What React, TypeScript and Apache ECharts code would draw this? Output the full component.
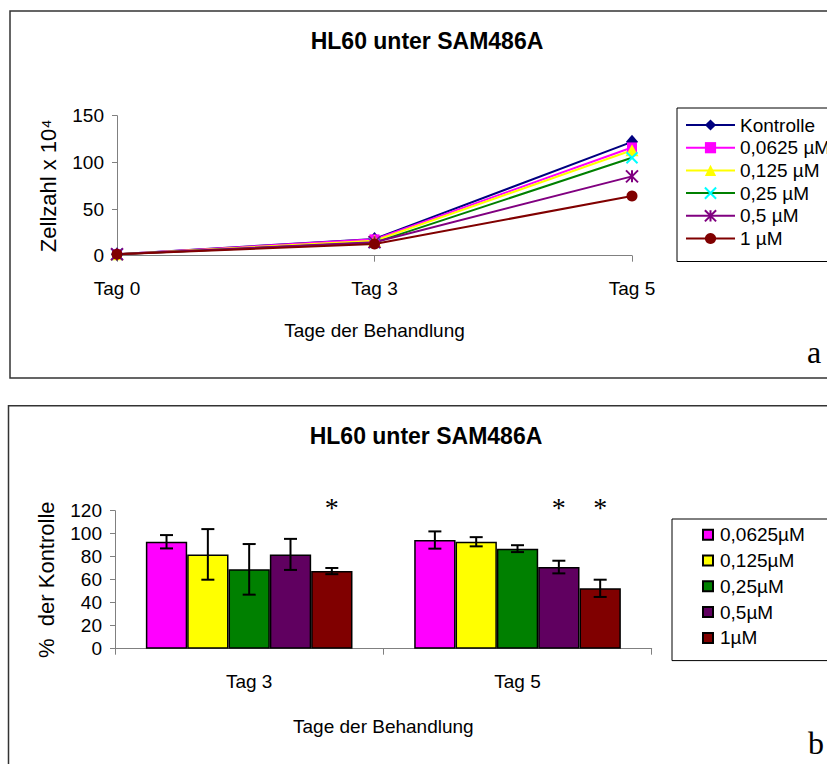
import React, { useEffect, useRef } from 'react';
import * as echarts from 'echarts';

const SANS = "'Liberation Sans', Arial, sans-serif";
const SERIF = "'Liberation Serif', 'Times New Roman', serif";

// ---------- Panel a: cell counts ----------
const dayCategories = ['Tag 0', 'Tag 3', 'Tag 5'];
const cellTicks = [0, 50, 100, 150];
const lineNames = ['Kontrolle', '0,0625 µM', '0,125 µM', '0,25 µM', '0,5 µM', '1 µM'];
const kontrolle = [1.5, 18, 122];
const dose00625 = [1.5, 17.5, 116];
const dose0125 = [1.5, 16, 113];
const dose025 = [1.5, 14, 105];
const dose05 = [1.5, 14.5, 85];
const dose1 = [1.5, 12.5, 64];

// ---------- Panel b: % of control ----------
const barCategories = ['Tag 3', 'Tag 5'];
const percentTicks = [0, 20, 40, 60, 80, 100, 120];
const barNames = ['0,0625µM', '0,125µM', '0,25µM', '0,5µM', '1µM'];
const mean00625 = [93, 94.5];
const mean0125 = [82, 93];
const mean025 = [69, 87];
const mean05 = [82, 71];
const mean1 = [67.5, 52.5];
const err00625 = [5.8, 7.5];
const err0125 = [22, 4];
const err025 = [22, 3];
const err05 = [13.5, 5.5];
const err1 = [2.7, 7.5];
const sig00625 = [0, 0];
const sig0125 = [0, 0];
const sig025 = [0, 0];
const sig05 = [0, 1];
const sig1 = [1, 1];
const STAR_LEVEL = 123;

const BAR_CATEGORY_GAP = 0.23;

const lineColors = ['#000080', '#FF00FF', '#FFFF00', '#008000', '#800080', '#800000'];
const markerColors = ['#000080', '#FF00FF', '#FFFF00', '#00FFFF', '#800080', '#800000'];
const barColors = ['#FF00FF', '#FFFF00', '#008000', '#600060', '#800000'];

const X_PATH = 'path://M0,0L10,10M10,0L0,10';
const STAR_PATH = 'path://M5,0L5,10M0,0L10,10M10,0L0,10';

export default function App() {
  const ref = useRef<HTMLDivElement>(null);

  useEffect(() => {
    if (!ref.current) return;
    const chart = echarts.init(ref.current, undefined, { renderer: 'svg' });

    const lineData = [kontrolle, dose00625, dose0125, dose025, dose05, dose1];
    const symbols: any[] = ['diamond', 'rect', 'triangle', X_PATH, STAR_PATH, 'circle'];
    const symbolSizes: any[] = [[12, 14], 10, [13, 12], 11, 12, 11];

    const lineSeries = lineNames.map((name, i) => {
      const stroked = i === 3 || i === 4;
      return {
        type: 'line',
        name,
        xAxisIndex: 0,
        yAxisIndex: 0,
        data: lineData[i],
        symbol: symbols[i],
        symbolSize: symbolSizes[i],
        showAllSymbol: true,
        lineStyle: { color: lineColors[i], width: 2 },
        itemStyle: stroked
          ? { color: markerColors[i], borderColor: markerColors[i], borderWidth: 2 }
          : { color: markerColors[i], borderWidth: 0 },
        emphasis: { disabled: true },
      };
    });

    const means = [mean00625, mean0125, mean025, mean05, mean1];
    const errs = [err00625, err0125, err025, err05, err1];
    const sigs = [sig00625, sig0125, sig025, sig05, sig1];

    const barSeries = barNames.map((name, i) => ({
      type: 'bar',
      name,
      xAxisIndex: 1,
      yAxisIndex: 1,
      data: means[i],
      barGap: '0%',
      barCategoryGap: BAR_CATEGORY_GAP * 100 + '%',
      itemStyle: { color: barColors[i], borderColor: '#000', borderWidth: 1.5 },
      emphasis: { disabled: true },
    }));

    const errorData: number[][] = [];
    means.forEach((m, d) => {
      m.forEach((v, c) => {
        errorData.push([c, d, v, errs[d][c], sigs[d][c]]);
      });
    });

    const errorSeries = {
      type: 'custom',
      xAxisIndex: 1,
      yAxisIndex: 1,
      dimensions: ['cat', 'dose', 'mean', 'err', 'sig'],
      encode: { x: 0, y: 2 },
      data: errorData,
      z: 5,
      renderItem: (params: any, api: any) => {
        const c = api.value(0);
        const d = api.value(1);
        const m = api.value(2);
        const e = api.value(3);
        const s = api.value(4);
        const catW = api.size([1, 0])[0];
        const barW = (catW * (1 - BAR_CATEGORY_GAP)) / barNames.length;
        const base = api.coord([c, m]);
        const x = base[0] + (d - (barNames.length - 1) / 2) * barW;
        const yTop = api.coord([c, m + e])[1];
        const yBot = api.coord([c, m - e])[1];
        const cap = 6.5;
        const st = { stroke: '#000', lineWidth: 2 };
        const children: any[] = [
          { type: 'line', shape: { x1: x, y1: yTop, x2: x, y2: yBot }, style: st },
          { type: 'line', shape: { x1: x - cap, y1: yTop, x2: x + cap, y2: yTop }, style: st },
          { type: 'line', shape: { x1: x - cap, y1: yBot, x2: x + cap, y2: yBot }, style: st },
        ];
        if (s) {
          const ys = api.coord([c, STAR_LEVEL])[1];
          children.push({
            type: 'text',
            x,
            y: ys,
            style: {
              text: '*',
              align: 'center',
              verticalAlign: 'middle',
              fontFamily: SERIF,
              fontSize: 28,
              fill: '#000',
            },
          });
        }
        return { type: 'group', children };
      },
    };

    const axisLine = { show: true, lineStyle: { color: '#808080', width: 1 } };
    const axisTick = { show: true, length: 6, lineStyle: { color: '#808080', width: 1 } };
    const tickFont = { fontFamily: SANS, fontSize: 19, color: '#000' };

    const option: any = {
      animation: false,
      backgroundColor: '#fff',
      textStyle: { fontFamily: SANS, color: '#000' },
      title: [
        {
          text: 'HL60 unter SAM486A',
          left: 427,
          top: 29,
          padding: 0,
          textAlign: 'center',
          textStyle: { fontFamily: SANS, fontSize: 23, fontWeight: 'bold', color: '#000' },
        },
        {
          text: 'HL60 unter SAM486A',
          left: 426,
          top: 424,
          padding: 0,
          textAlign: 'center',
          textStyle: { fontFamily: SANS, fontSize: 23, fontWeight: 'bold', color: '#000' },
        },
      ],
      legend: [
        {
          orient: 'vertical',
          left: 677,
          top: 108,
          data: lineNames,
          itemWidth: 49,
          itemHeight: 14,
          itemGap: 2.7,
          padding: [7, 120, 13, 8],
          borderColor: '#000',
          borderWidth: 1,
          selectedMode: false,
          textStyle: { fontFamily: SANS, fontSize: 19, lineHeight: 20, color: '#000' },
        },
        {
          orient: 'vertical',
          left: 672,
          top: 519,
          data: barNames,
          icon: 'rect',
          itemWidth: 10,
          itemHeight: 10,
          itemGap: 5.8,
          padding: [5.7, 120, 12.7, 30],
          borderColor: '#000',
          borderWidth: 1,
          selectedMode: false,
          textStyle: { fontFamily: SANS, fontSize: 19, lineHeight: 20, color: '#000', padding: [0, 0, 0, 2] },
        },
      ],
      grid: [
        { left: 117, right: 195, top: 115.7, bottom: 508.3 },
        { left: 115, right: 175.3, top: 510.7, bottom: 115.3 },
      ],
      xAxis: [
        {
          type: 'category',
          gridIndex: 0,
          data: dayCategories,
          boundaryGap: false,
          axisLine,
          axisTick,
          axisLabel: { ...tickFont, margin: 23 },
          splitLine: { show: false },
          name: 'Tage der Behandlung',
          nameLocation: 'middle',
          nameGap: 65,
          nameTextStyle: { fontFamily: SANS, fontSize: 19, color: '#000' },
        },
        {
          type: 'category',
          gridIndex: 1,
          data: barCategories,
          axisLine,
          axisTick,
          axisLabel: { ...tickFont, margin: 23 },
          splitLine: { show: false },
          name: 'Tage der Behandlung',
          nameLocation: 'middle',
          nameGap: 68,
          nameTextStyle: { fontFamily: SANS, fontSize: 19, color: '#000' },
        },
      ],
      yAxis: [
        {
          type: 'value',
          gridIndex: 0,
          min: cellTicks[0],
          max: cellTicks[cellTicks.length - 1],
          interval: cellTicks[1] - cellTicks[0],
          axisLine,
          axisTick: { ...axisTick, length: 5 },
          axisLabel: { ...tickFont, margin: 13 },
          splitLine: { show: false },
          name: 'Zellzahl x 10⁴',
          nameLocation: 'middle',
          nameRotate: 90,
          nameGap: 58,
          nameTextStyle: { fontFamily: SANS, fontSize: 22, color: '#000' },
        },
        {
          type: 'value',
          gridIndex: 1,
          min: percentTicks[0],
          max: percentTicks[percentTicks.length - 1],
          interval: percentTicks[1] - percentTicks[0],
          axisLine,
          axisTick: { ...axisTick, length: 5 },
          axisLabel: { ...tickFont, margin: 13 },
          splitLine: { show: false },
          name: '%  der Kontrolle',
          nameLocation: 'middle',
          nameRotate: 90,
          nameGap: 58,
          nameTextStyle: { fontFamily: SANS, fontSize: 22, color: '#000' },
        },
      ],
      graphic: [
        {
          type: 'rect',
          shape: { x: 10, y: 11, width: 900, height: 367 },
          style: { fill: 'none', stroke: '#333', lineWidth: 1.5 },
          silent: true,
          z: -1,
        },
        {
          type: 'rect',
          shape: { x: 8.5, y: 405.7, width: 900, height: 500 },
          style: { fill: 'none', stroke: '#333', lineWidth: 1.5 },
          silent: true,
          z: -1,
        },
        {
          type: 'text',
          x: 814,
          y: 352,
          style: { text: 'a', fontFamily: SERIF, fontSize: 32, fill: '#000', align: 'center', verticalAlign: 'middle' },
        },
        {
          type: 'text',
          x: 816,
          y: 743,
          style: { text: 'b', fontFamily: SERIF, fontSize: 32, fill: '#000', align: 'center', verticalAlign: 'middle' },
        },
      ],
      series: [...lineSeries, ...barSeries, errorSeries],
    };

    chart.setOption(option);
    return () => chart.dispose();
  }, []);

  return (
    <div
      ref={ref}
      style={{ position: 'absolute', left: 0, top: 0, width: 827, height: 764, background: '#fff' }}
    />
  );
}
